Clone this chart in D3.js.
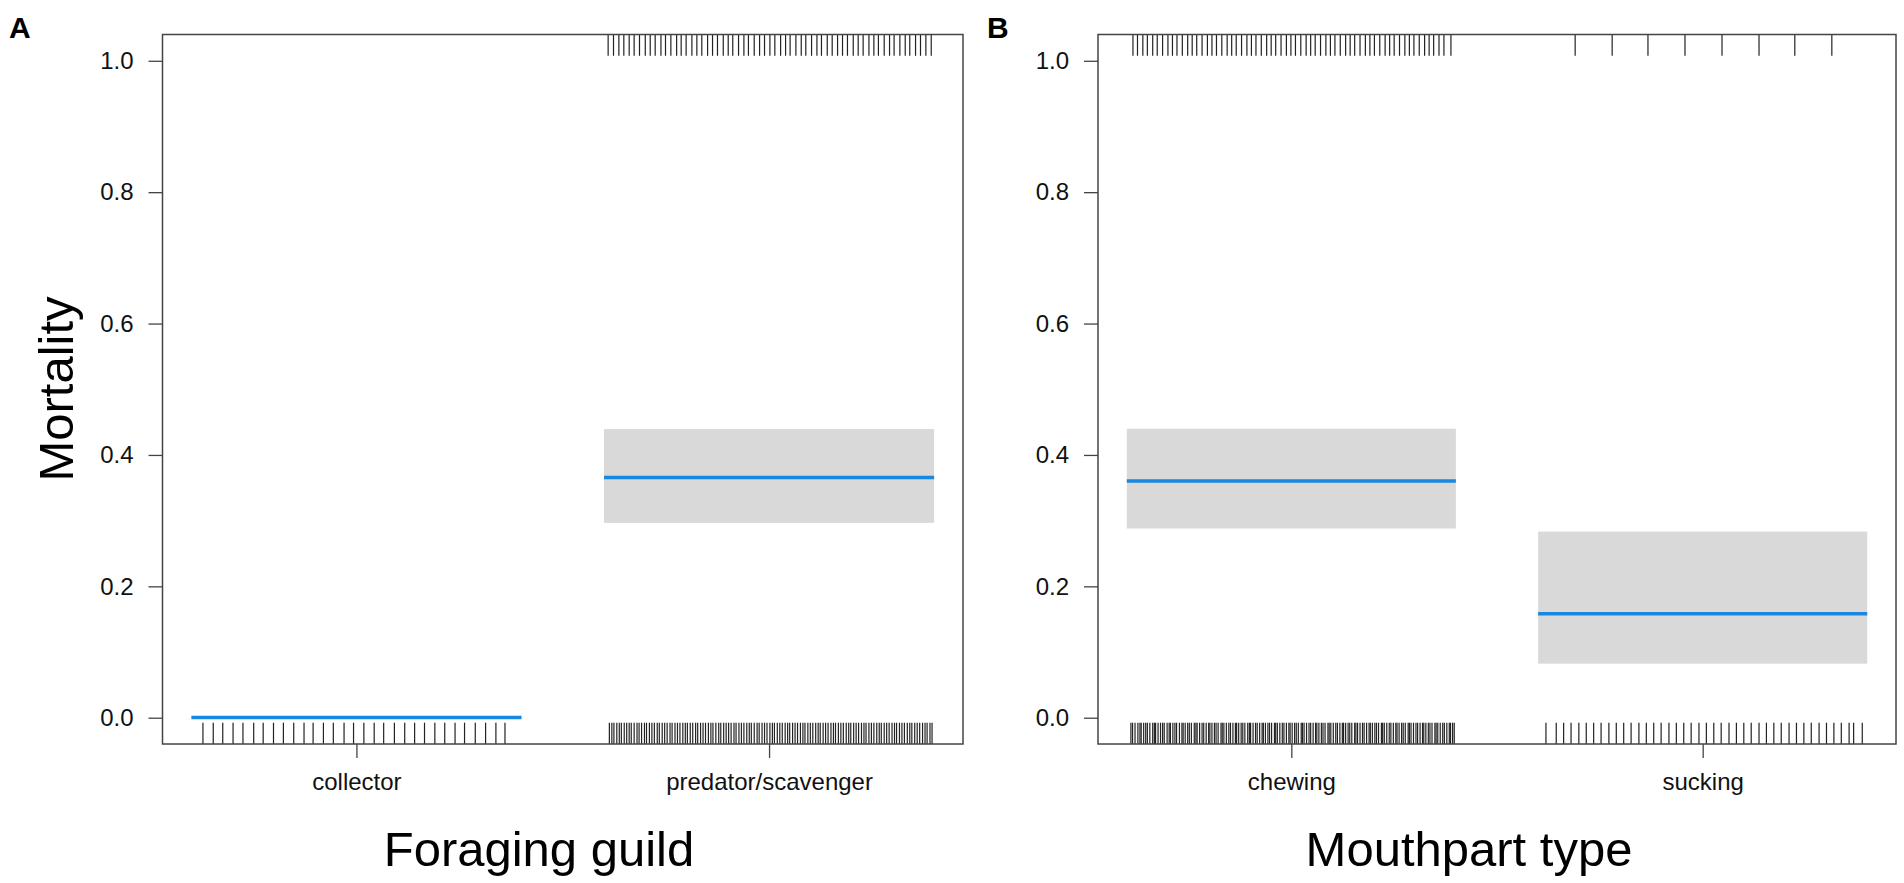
<!DOCTYPE html>
<html>
<head>
<meta charset="utf-8">
<script src="https://cdn.jsdelivr.net/npm/d3@7"></script>
<style>
  body { margin: 0; background: #fff; }
  svg { display: block; font-family: "Liberation Sans", Arial, Helvetica, sans-serif; }
  .axis path.domain { display: none; }
  .axis line { stroke: #444; stroke-width: 1.3; }
  .axis text { font-size: 24px; fill: #111; }
</style>
</head>
<body>
<svg id="fig"></svg>
<script>
// ---- data ----
var yTicks = [0, 0.2, 0.4, 0.6, 0.8, 1.0];

var guildCats = ["collector", "predator/scavenger"];
var guildFit = [0.0005, 0.3655];
var guildLower = [0.0, 0.2966];
var guildUpper = [0.002, 0.4394];

var mouthCats = ["chewing", "sucking"];
var mouthFit = [0.3604, 0.1584];
var mouthLower = [0.288, 0.0823];
var mouthUpper = [0.4399, 0.2834];

// rug marks: offsets from the category position (observations at 0 and at 1)
var collectorDead = [];
var collectorAlive = [-0.372,-0.347,-0.324,-0.299,-0.275,-0.249,-0.226,-0.201,-0.177,-0.152,-0.127,-0.105,-0.080,-0.056,-0.030,-0.007,
  0.018,0.043,0.066,0.092,0.117,0.141,0.165,0.190,0.214,0.239,0.262,0.288,0.313,0.338,0.360];

var predatorDead = [-0.390,-0.377,-0.364,-0.352,-0.339,-0.327,-0.314,-0.300,-0.288,-0.276,-0.262,-0.251,-0.238,-0.224,-0.213,-0.201,
  -0.187,-0.175,-0.163,-0.149,-0.137,-0.125,-0.111,-0.099,-0.088,-0.074,-0.061,-0.050,-0.036,-0.023,-0.011,0.002,0.014,0.028,
  0.040,0.051,0.065,0.078,0.089,0.103,0.116,0.127,0.141,0.153,0.166,0.178,0.190,0.204,0.216,0.228,0.242,0.254,0.265,0.279,
  0.292,0.303,0.317,0.330,0.341,0.355,0.367,0.380,0.393];
var predatorAlive = [-0.387,-0.381,-0.376,-0.369,-0.363,-0.358,-0.351,-0.345,-0.339,-0.334,-0.327,-0.320,-0.315,-0.309,-0.302,-0.297,
  -0.290,-0.284,-0.278,-0.271,-0.266,-0.259,-0.253,-0.247,-0.240,-0.235,-0.228,-0.222,-0.216,-0.209,-0.203,-0.198,-0.191,-0.185,
  -0.178,-0.173,-0.166,-0.160,-0.154,-0.147,-0.141,-0.136,-0.129,-0.122,-0.117,-0.110,-0.104,-0.098,-0.092,-0.085,-0.080,-0.073,
  -0.067,-0.061,-0.054,-0.048,-0.043,-0.036,-0.029,-0.024,-0.017,-0.011,-0.005,0.002,0.008,0.013,0.020,0.026,0.032,0.039,0.045,
  0.050,0.057,0.063,0.069,0.076,0.082,0.087,0.094,0.100,0.106,0.113,0.119,0.124,0.131,0.137,0.143,0.150,0.156,0.161,0.168,0.174,
  0.180,0.187,0.193,0.198,0.205,0.211,0.217,0.224,0.230,0.235,0.242,0.248,0.254,0.261,0.267,0.272,0.279,0.285,0.291,0.298,0.304,
  0.309,0.316,0.322,0.328,0.335,0.341,0.346,0.353,0.359,0.365,0.372,0.378,0.383,0.390,0.395];

var chewingDead = [-0.385,-0.374,-0.361,-0.350,-0.337,-0.326,-0.313,-0.300,-0.289,-0.278,-0.265,-0.252,-0.241,-0.230,-0.217,-0.204,
  -0.193,-0.182,-0.169,-0.156,-0.145,-0.134,-0.121,-0.108,-0.097,-0.086,-0.073,-0.060,-0.049,-0.038,-0.025,-0.012,-0.001,0.010,
  0.023,0.036,0.047,0.058,0.071,0.084,0.095,0.106,0.119,0.132,0.143,0.154,0.167,0.180,0.191,0.202,0.215,0.228,0.239,0.250,
  0.263,0.276,0.287,0.298,0.311,0.324,0.335,0.346,0.359,0.371,0.388];
var chewingAlive = [-0.390,-0.386,-0.380,-0.373,-0.368,-0.365,-0.359,-0.354,-0.350,-0.344,-0.337,-0.333,-0.330,-0.324,-0.318,-0.313,
  -0.309,-0.302,-0.297,-0.294,-0.288,-0.283,-0.279,-0.272,-0.266,-0.263,-0.258,-0.252,-0.248,-0.243,-0.236,-0.232,-0.229,-0.223,
  -0.217,-0.213,-0.207,-0.201,-0.198,-0.193,-0.187,-0.183,-0.178,-0.171,-0.168,-0.164,-0.158,-0.152,-0.148,-0.142,-0.136,-0.133,
  -0.128,-0.122,-0.118,-0.113,-0.106,-0.102,-0.099,-0.093,-0.087,-0.083,-0.077,-0.071,-0.068,-0.063,-0.057,-0.053,-0.048,-0.041,
  -0.038,-0.034,-0.028,-0.022,-0.018,-0.012,-0.006,-0.003,0.002,0.008,0.012,0.017,0.024,0.027,0.031,0.037,0.043,0.047,0.053,
  0.059,0.062,0.067,0.073,0.077,0.082,0.089,0.092,0.096,0.102,0.108,0.112,0.118,0.124,0.127,0.132,0.138,0.142,0.147,0.154,
  0.157,0.161,0.167,0.173,0.177,0.183,0.189,0.192,0.197,0.203,0.207,0.212,0.219,0.222,0.226,0.232,0.238,0.242,0.248,0.254,
  0.257,0.262,0.268,0.272,0.277,0.284,0.287,0.291,0.297,0.303,0.307,0.313,0.319,0.322,0.327,0.333,0.337,0.342,0.349,0.352,
  0.356,0.362,0.368,0.372,0.378,0.384,0.387,0.392,0.396];

var suckingDead = [-0.310,-0.220,-0.133,-0.043,0.047,0.137,0.224,0.314];
var suckingAlive = [-0.381,-0.356,-0.338,-0.320,-0.301,-0.283,-0.265,-0.247,-0.228,-0.210,-0.192,-0.174,-0.155,-0.137,-0.119,-0.101,
  -0.082,-0.064,-0.046,-0.028,-0.009,0.009,0.027,0.045,0.064,0.082,0.100,0.118,0.137,0.155,0.173,0.191,0.210,0.228,0.246,0.264,
  0.283,0.301,0.319,0.337,0.356,0.367,0.388];

// ---- layout ----
var W = 1904, H = 883;
var frameTop = 34.5, frameBottom = 744;

var svg = d3.select('#fig')
  .attr('width', W)
  .attr('height', H);

var y = d3.scaleLinear()
  .domain([-0.04, 1.04])
  .range([frameBottom, frameTop]);

var drawPanel = function(p) {
  var x = d3.scaleLinear()
    .domain([0.53, 2.47])
    .range([p.left, p.right]);

  var g = svg.append('g');

  // confidence bands
  g.selectAll('.band')
    .data(p.cats)
    .enter().append('rect')
    .attr('class', 'band')
    .attr('x', function(d, i) { return x(i + 1 - 0.4); })
    .attr('width', function(d, i) { return x(i + 1 + 0.4) - x(i + 1 - 0.4); })
    .attr('y', function(d, i) { return y(p.upper[i]); })
    .attr('height', function(d, i) { return y(p.lower[i]) - y(p.upper[i]); })
    .attr('fill', '#d9d9d9');

  // fitted values
  g.selectAll('.fit')
    .data(p.cats)
    .enter().append('line')
    .attr('class', 'fit')
    .attr('x1', function(d, i) { return x(i + 1 - 0.4); })
    .attr('x2', function(d, i) { return x(i + 1 + 0.4); })
    .attr('y1', function(d, i) { return y(p.fit[i]); })
    .attr('y2', function(d, i) { return y(p.fit[i]); })
    .attr('stroke', '#1a87e0')
    .attr('stroke-width', 3.5);

  // rugs (3% of frame height)
  var tick = 0.03 * (frameBottom - frameTop);
  var rug = function(offsets, cat, atTop) {
    g.append('g').selectAll('line')
      .data(offsets)
      .enter().append('line')
      .attr('x1', function(d) { return x(cat + d); })
      .attr('x2', function(d) { return x(cat + d); })
      .attr('y1', atTop ? frameTop : frameBottom)
      .attr('y2', atTop ? frameTop + tick : frameBottom - tick)
      .attr('stroke', '#222')
      .attr('stroke-width', 1.2);
  };
  p.dead.forEach(function(offs, i) { rug(offs, i + 1, true); });
  p.alive.forEach(function(offs, i) { rug(offs, i + 1, false); });

  // axes
  g.append('g')
    .attr('class', 'axis')
    .attr('transform', 'translate(' + p.left + ',0)')
    .call(d3.axisLeft(y).tickValues(yTicks).tickFormat(d3.format('.1f'))
      .tickSize(14).tickPadding(15));

  g.append('g')
    .attr('class', 'axis')
    .attr('transform', 'translate(0,' + frameBottom + ')')
    .call(d3.axisBottom(x).tickValues([1, 2])
      .tickFormat(function(d) { return p.cats[d - 1]; })
      .tickSize(14).tickPadding(15));

  // frame
  g.append('rect')
    .attr('x', p.left)
    .attr('y', frameTop)
    .attr('width', p.right - p.left)
    .attr('height', frameBottom - frameTop)
    .attr('fill', 'none')
    .attr('stroke', '#444')
    .attr('stroke-width', 1.5);

  // x title and panel letter
  g.append('text')
    .attr('x', p.titleX)
    .attr('y', 866)
    .attr('text-anchor', 'middle')
    .style('font-size', '49px')
    .text(p.title);

  g.append('text')
    .attr('x', p.letterX)
    .attr('y', 38)
    .style('font-size', '30px')
    .style('font-weight', 'bold')
    .text(p.letter);
};

drawPanel({
  left: 162.5, right: 963,
  cats: guildCats, fit: guildFit, lower: guildLower, upper: guildUpper,
  dead: [collectorDead, predatorDead], alive: [collectorAlive, predatorAlive],
  title: 'Foraging guild', titleX: 539, letter: 'A', letterX: 9
});

drawPanel({
  left: 1098, right: 1896,
  cats: mouthCats, fit: mouthFit, lower: mouthLower, upper: mouthUpper,
  dead: [chewingDead, suckingDead], alive: [chewingAlive, suckingAlive],
  title: 'Mouthpart type', titleX: 1469, letter: 'B', letterX: 987
});

// y title
svg.append('text')
  .attr('transform', 'translate(73,389) rotate(-90)')
  .attr('text-anchor', 'middle')
  .style('font-size', '49px')
  .text('Mortality');
</script>
</body>
</html>
